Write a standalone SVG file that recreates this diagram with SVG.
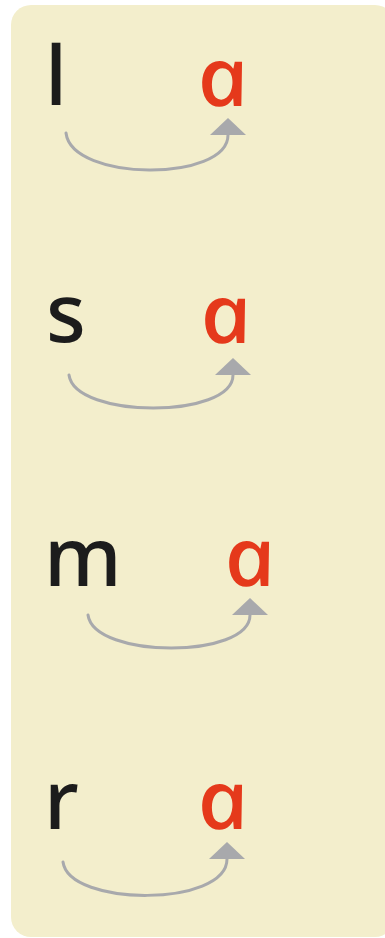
<svg xmlns="http://www.w3.org/2000/svg" width="385" height="938" viewBox="0 0 385 938">
<style>
.bg{fill:#f3eecc}
.k{font-family:"Noto Sans","DejaVu Sans",sans-serif;font-size:82px;font-weight:500;fill:#1c1c1c}
.r{font-family:"Noto Sans","Open Sans",sans-serif;font-style:italic;font-weight:500;font-size:82px;fill:#e5391b}
.c{fill:none;stroke:#a8a9ac;stroke-width:3;stroke-linecap:round}
</style>
<defs>
<marker id="ah" viewBox="0 -18 17 36" markerWidth="17" markerHeight="36" refX="0" refY="0" orient="auto" markerUnits="userSpaceOnUse">
<path d="M0,-18 L17,0 L0,18 z" fill="#a8a9ac"/>
</marker>
</defs>
<rect class="bg" x="11" y="5" width="384" height="932" rx="20"/>
<g id="row1">
<text class="k" x="45" y="105">l</text>
<g transform="translate(202,106) skewX(12) scale(1.08,1)"><text class="r" x="0" y="0">a</text></g>
</g>
<g id="row2">
<text class="k" x="46" y="342">s</text>
<g transform="translate(205,343) skewX(12) scale(1.08,1)"><text class="r" x="0" y="0">a</text></g>
</g>
<g id="row3">
<text class="k" x="44" y="586">m</text>
<g transform="translate(229,586) skewX(12) scale(1.08,1)"><text class="r" x="0" y="0">a</text></g>
</g>
<g id="row4">
<text class="k" x="44" y="829">r</text>
<g transform="translate(202,829) skewX(12) scale(1.08,1)"><text class="r" x="0" y="0">a</text></g>
</g>
<g id="connectors">
<path class="c" marker-end="url(#ah)" d="M66,133 C72,182 228,182 228,135"/>
<path class="c" marker-end="url(#ah)" d="M69,375 C75,419 233,419 233,375"/>
<path class="c" marker-end="url(#ah)" d="M88,615 C94,659 250,659 250,615"/>
<path class="c" marker-end="url(#ah)" d="M63,862 C69,907 227,907 227,859"/>
</g>
</svg>
